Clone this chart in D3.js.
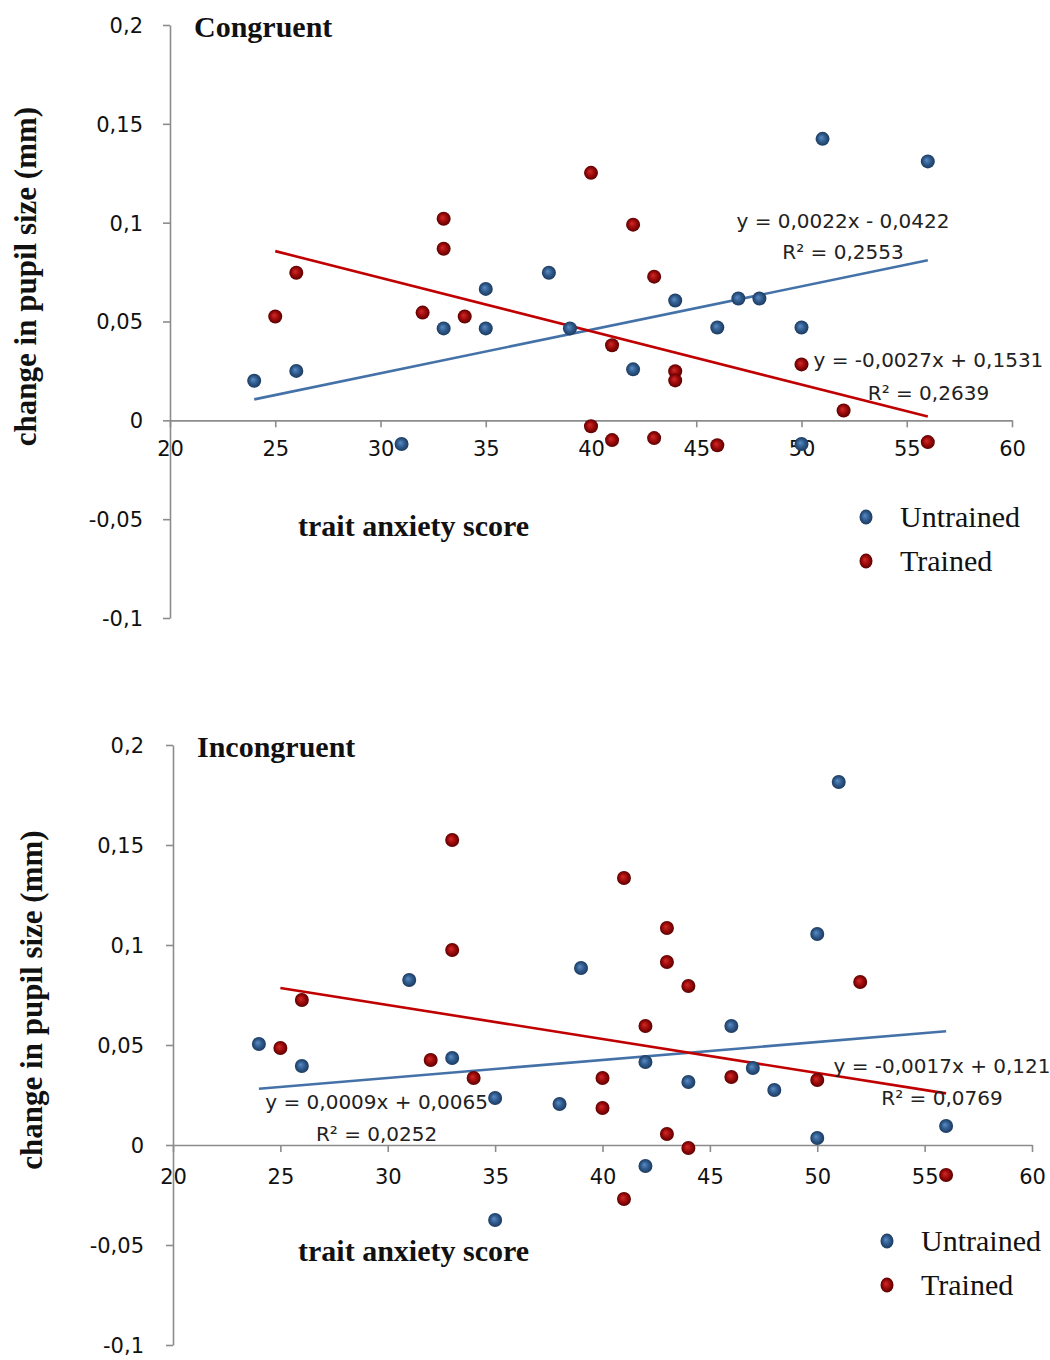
<!DOCTYPE html>
<html>
<head>
<meta charset="utf-8">
<script src="https://cdn.jsdelivr.net/npm/d3@7"></script>
<style>
  body { margin: 0; background: #fff; }
  svg { display: block; }
</style>
</head>
<body>
<svg id="chart"></svg>
<script>
// congruent condition
const congUntrainedX = [24, 26, 31, 33, 35, 35, 38, 39, 42, 44, 46, 47, 48, 50, 50, 51, 56];
const congUntrainedY = [0.020, 0.025, -0.012, 0.0465, 0.0665, 0.0465, 0.0747, 0.0465, 0.0258, 0.0606, 0.047, 0.0616, 0.0616, 0.047, -0.012, 0.1424, 0.131];
const congTrainedX = [25, 26, 32, 33, 33, 34, 40, 40, 41, 41, 42, 43, 43, 44, 44, 46, 50, 52, 56];
const congTrainedY = [0.0525, 0.0747, 0.0545, 0.102, 0.0868, 0.0525, 0.1252, -0.003, 0.038, -0.010, 0.099, 0.0727, -0.009, 0.0248, 0.0202, -0.0126, 0.0283, 0.005, -0.011];

// incongruent condition
const incUntrainedX = [24, 26, 31, 33, 35, 35, 38, 39, 42, 42, 44, 46, 47, 48, 50, 50, 51, 56];
const incUntrainedY = [0.0505, 0.0395, 0.0825, 0.0435, 0.0235, -0.0375, 0.0205, 0.0885, 0.0415, -0.0105, 0.0315, 0.0595, 0.0385, 0.0275, 0.1055, 0.0035, 0.1815, 0.0095];
const incTrainedX = [25, 26, 32, 33, 33, 34, 40, 40, 41, 41, 42, 43, 43, 43, 44, 44, 46, 50, 52, 56];
const incTrainedY = [0.0485, 0.0725, 0.0425, 0.1525, 0.0975, 0.0335, 0.0335, 0.0185, 0.1335, -0.027, 0.0595, 0.1085, 0.0915, 0.0055, 0.0795, -0.0015, 0.034, 0.0325, 0.0815, -0.015];

// trend lines: [slope, intercept]
const congUntrainedFit = [0.0022, -0.0422];
const congTrainedFit = [-0.0027, 0.1531];
const incUntrainedFit = [0.0009, 0.0065];
const incTrainedFit = [-0.0017, 0.121];

const congUntrainedEq = ['y = 0,0022x - 0,0422', 'R² = 0,2553'];
const congTrainedEq = ['y = -0,0027x + 0,1531', 'R² = 0,2639'];
const incUntrainedEq = ['y = 0,0009x + 0,0065', 'R² = 0,0252'];
const incTrainedEq = ['y = -0,0017x + 0,121', 'R² = 0,0769'];

const xTicks = [20, 25, 30, 35, 40, 45, 50, 55, 60];
const yTicks = [-0.1, -0.05, 0, 0.05, 0.1, 0.15, 0.2];
const seriesNames = ['Untrained', 'Trained'];
const panelTitles = ['Congruent', 'Incongruent'];

const W = 1050, H = 1360;
const blue = '#2f5a8c', red = '#9c0a0a';
const blueLine = '#4472a8', redLine = '#c00000';
const axisGrey = '#8c8c8c';
const serif = '"Liberation Serif", "Times New Roman", serif';
const sans = '"DejaVu Sans", Verdana, sans-serif';

const $svg = d3.select('#chart').attr('width', W).attr('height', H);

const defs = $svg.append('defs');
[['gBlue', '#5b8cc4', blue, '#1c3a5e'], ['gRed', '#d02a2a', red, '#5a0000']].forEach((g) => {
  const grad = defs.append('radialGradient').attr('id', g[0])
    .attr('cx', '50%').attr('cy', '50%').attr('r', '50%')
    .attr('fx', '40%').attr('fy', '40%');
  grad.append('stop').attr('offset', '0%').attr('stop-color', g[1]);
  grad.append('stop').attr('offset', '55%').attr('stop-color', g[2]);
  grad.append('stop').attr('offset', '100%').attr('stop-color', g[3]);
});

const fmt = (v) => (Math.abs(v) < 1e-9 ? '0' : String(+v.toFixed(2)).replace('.', ','));

const drawPanel = (p) => {
  const xScale = d3.scaleLinear().domain([20, 60]).range(p.xRange),
    yScale = d3.scaleLinear().domain([-0.1, 0.2]).range(p.yRange);
  const g = $svg.append('g');

  // y axis at x = 20
  const yAxis = g.append('g')
    .attr('transform', 'translate(' + xScale(20) + ',0)')
    .call(d3.axisLeft(yScale).tickValues(yTicks).tickFormat(fmt).tickSize(7).tickSizeOuter(0).tickPadding(p.yPad));
  // x axis at y = 0
  const xAxis = g.append('g')
    .attr('transform', 'translate(0,' + yScale(0) + ')')
    .call(d3.axisBottom(xScale).tickValues(xTicks).tickFormat(d3.format('d')).tickSize(7).tickSizeOuter(0).tickPadding(p.xPad));
  [yAxis, xAxis].forEach((a) => {
    a.selectAll('path, line').attr('stroke', axisGrey).attr('stroke-width', 1.6);
    a.selectAll('text').attr('font-family', sans).attr('font-size', 21).attr('fill', '#111');
  });
  yAxis.selectAll('text').attr('dy', '0.35em');

  // trend lines
  const fits = [[p.uFit, p.uX, blueLine], [p.tFit, p.tX, redLine]];
  fits.forEach((f) => {
    const x0 = d3.min(f[1]), x1 = d3.max(f[1]);
    g.append('line')
      .attr('x1', xScale(x0)).attr('y1', yScale(f[0][0] * x0 + f[0][1]))
      .attr('x2', xScale(x1)).attr('y2', yScale(f[0][0] * x1 + f[0][1]))
      .attr('stroke', f[2]).attr('stroke-width', 2.6);
  });

  // points
  const pts = [[p.uX, p.uY, 'url(#gBlue)'], [p.tX, p.tY, 'url(#gRed)']];
  pts.forEach((s) => {
    g.selectAll(null)
      .data(d3.zip(s[0], s[1]))
      .enter()
      .append('circle')
      .attr('cx', (d) => xScale(d[0]))
      .attr('cy', (d) => yScale(d[1]))
      .attr('r', 7)
      .attr('fill', s[2]);
  });

  // equations
  p.eqs.forEach((e) => {
    e.text.forEach((t, i) => {
      g.append('text')
        .text(t)
        .attr('x', xScale(e.at[0]))
        .attr('y', yScale(e.at[1]) + i * e.gap)
        .attr('text-anchor', 'middle')
        .attr('font-family', sans)
        .attr('font-size', 20)
        .attr('fill', '#222');
    });
  });

  // titles
  g.append('text')
    .text(p.title)
    .attr('x', xScale(20) + 24)
    .attr('y', p.yRange[1] + 12)
    .attr('font-family', serif).attr('font-weight', 'bold').attr('font-size', 30).attr('fill', '#111');
  g.append('text')
    .text('trait anxiety score')
    .attr('x', 298)
    .attr('y', yScale(0) + 116)
    .attr('font-family', serif).attr('font-weight', 'bold').attr('font-size', 30).attr('fill', '#111');
  g.append('text')
    .text('change in pupil size (mm)')
    .attr('text-anchor', 'middle')
    .attr('transform', 'translate(' + p.yLabelX + ',' + ((p.yRange[0] + p.yRange[1]) / 2 - 45) + ') rotate(-90)')
    .attr('font-family', serif).attr('font-weight', 'bold').attr('font-size', 31).attr('fill', '#111');

  // legend
  const leg = g.append('g').attr('transform', 'translate(' + p.legend[0] + ',' + p.legend[1] + ')');
  seriesNames.forEach((name, i) => {
    leg.append('ellipse')
      .attr('cx', 0).attr('cy', i * 44)
      .attr('rx', 6.5).attr('ry', 7.5)
      .attr('fill', i === 0 ? 'url(#gBlue)' : 'url(#gRed)');
    leg.append('text')
      .text(name)
      .attr('x', 34).attr('y', i * 44 + 10)
      .attr('font-family', serif).attr('font-size', 30).attr('fill', '#111');
  });
};

drawPanel({
  title: panelTitles[0],
  xRange: [170, 1012], yRange: [618, 25],
  yPad: 20, xPad: 14, yLabelX: 36,
  uX: congUntrainedX, uY: congUntrainedY, tX: congTrainedX, tY: congTrainedY,
  uFit: congUntrainedFit, tFit: congTrainedFit,
  eqs: [{ text: congUntrainedEq, at: [51.97, 0.0975], gap: 31 },
        { text: congTrainedEq, at: [56.03, 0.0268], gap: 33 }],
  legend: [866, 517]
});

drawPanel({
  title: panelTitles[1],
  xRange: [173, 1032], yRange: [1345, 745],
  yPad: 22, xPad: 17, yLabelX: 42,
  uX: incUntrainedX, uY: incUntrainedY, tX: incTrainedX, tY: incTrainedY,
  uFit: incUntrainedFit, tFit: incTrainedFit,
  eqs: [{ text: incUntrainedEq, at: [29.48, 0.018], gap: 32 },
        { text: incTrainedEq, at: [55.81, 0.036], gap: 32 }],
  legend: [887, 1241]
});
</script>
</body>
</html>
